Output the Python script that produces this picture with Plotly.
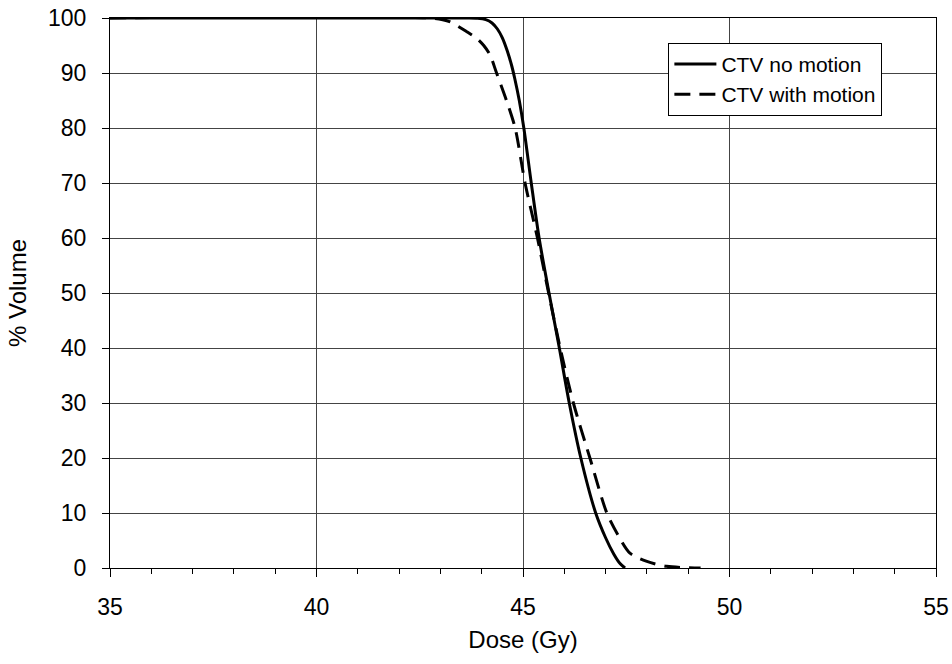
import plotly.graph_objects as go

# Data
dose_no_motion = [35, 43.6, 43.9, 44.1, 44.25, 44.38, 44.5, 44.62, 44.72, 44.8, 44.91,
                  45.02, 45.2, 45.39, 45.63, 45.88, 46.12, 46.4, 46.76, 47.0, 47.2,
                  47.35, 47.47]
vol_no_motion = [100, 100, 99.95, 99.7, 99.1, 98.0, 96.4, 94.0, 91.5, 89.0, 85,
                 80, 70, 60, 50, 40, 30, 20, 10, 5.5, 2.5,
                 0.8, 0]

dose_with_motion = [35, 42.75, 43.2, 43.64, 43.88, 44.05, 44.2, 44.36, 44.6, 44.81,
                    45.05, 45.35, 45.62, 45.9, 46.22, 46.62, 47.03, 47.3, 47.59,
                    48.0, 48.48, 49.3]
vol_with_motion = [100, 100, 99.4, 97.5, 96.3, 95.0, 93.3, 90, 85, 80,
                   70, 60, 50, 40, 30, 20, 10, 6, 2.7,
                   1.2, 0.3, 0]

series_names = ["CTV no motion", "CTV with motion"]
x_ticks = [35, 40, 45, 50, 55]
y_ticks = [0, 10, 20, 30, 40, 50, 60, 70, 80, 90, 100]

FONT = "Arial, Liberation Sans, sans-serif"

fig = go.Figure()
fig.add_trace(go.Scatter(x=dose_no_motion, y=vol_no_motion, mode="lines",
                         name=series_names[0],
                         line=dict(color="black", width=3, shape="spline", smoothing=0.8)))
fig.add_trace(go.Scatter(x=dose_with_motion, y=vol_with_motion, mode="lines",
                         name=series_names[1],
                         line=dict(color="black", width=3, dash="16px,9px",
                                   shape="spline", smoothing=0.8)))

fig.update_layout(
    width=952, height=664,
    margin=dict(l=110, r=16, t=18, b=96, autoexpand=False),
    paper_bgcolor="white", plot_bgcolor="white",
    font=dict(family=FONT, size=23, color="black"),
    showlegend=True,
    legend=dict(x=0.676, y=0.955, xanchor="left", yanchor="top",
                bgcolor="white", bordercolor="black", borderwidth=1,
                font=dict(size=21, family=FONT), tracegroupgap=0,
                itemwidth=42),
)
fig.update_xaxes(
    range=[35, 55], tickvals=x_ticks, ticktext=[str(v) for v in x_ticks],
    showgrid=True, gridcolor="#444444", gridwidth=1,
    showline=True, linecolor="black", linewidth=1, mirror=True,
    ticks="outside", ticklen=8, tickcolor="black",
    minor=dict(dtick=1, ticks="outside", ticklen=5, tickcolor="black", showgrid=False),
    ticklabelstandoff=10, automargin=False, ticklabeloverflow="allow",
    zeroline=False, tickfont=dict(size=23),
    title=dict(text="Dose (Gy)", font=dict(size=24, family=FONT), standoff=12),
)
fig.update_yaxes(
    range=[0, 100], tickvals=y_ticks, ticktext=[str(v) for v in y_ticks],
    showgrid=True, gridcolor="#444444", gridwidth=1,
    showline=True, linecolor="black", linewidth=1, mirror=True,
    ticks="outside", ticklen=7, tickcolor="black",
    ticklabelstandoff=11, automargin=False, ticklabeloverflow="allow",
    zeroline=False, tickfont=dict(size=23),
    title=dict(text="% Volume", font=dict(size=24, family=FONT), standoff=14),
)

fig.write_html("out.html", config={"displayModeBar": False},
               post_script="document.body.style.margin='0';document.body.style.overflow='hidden';")
